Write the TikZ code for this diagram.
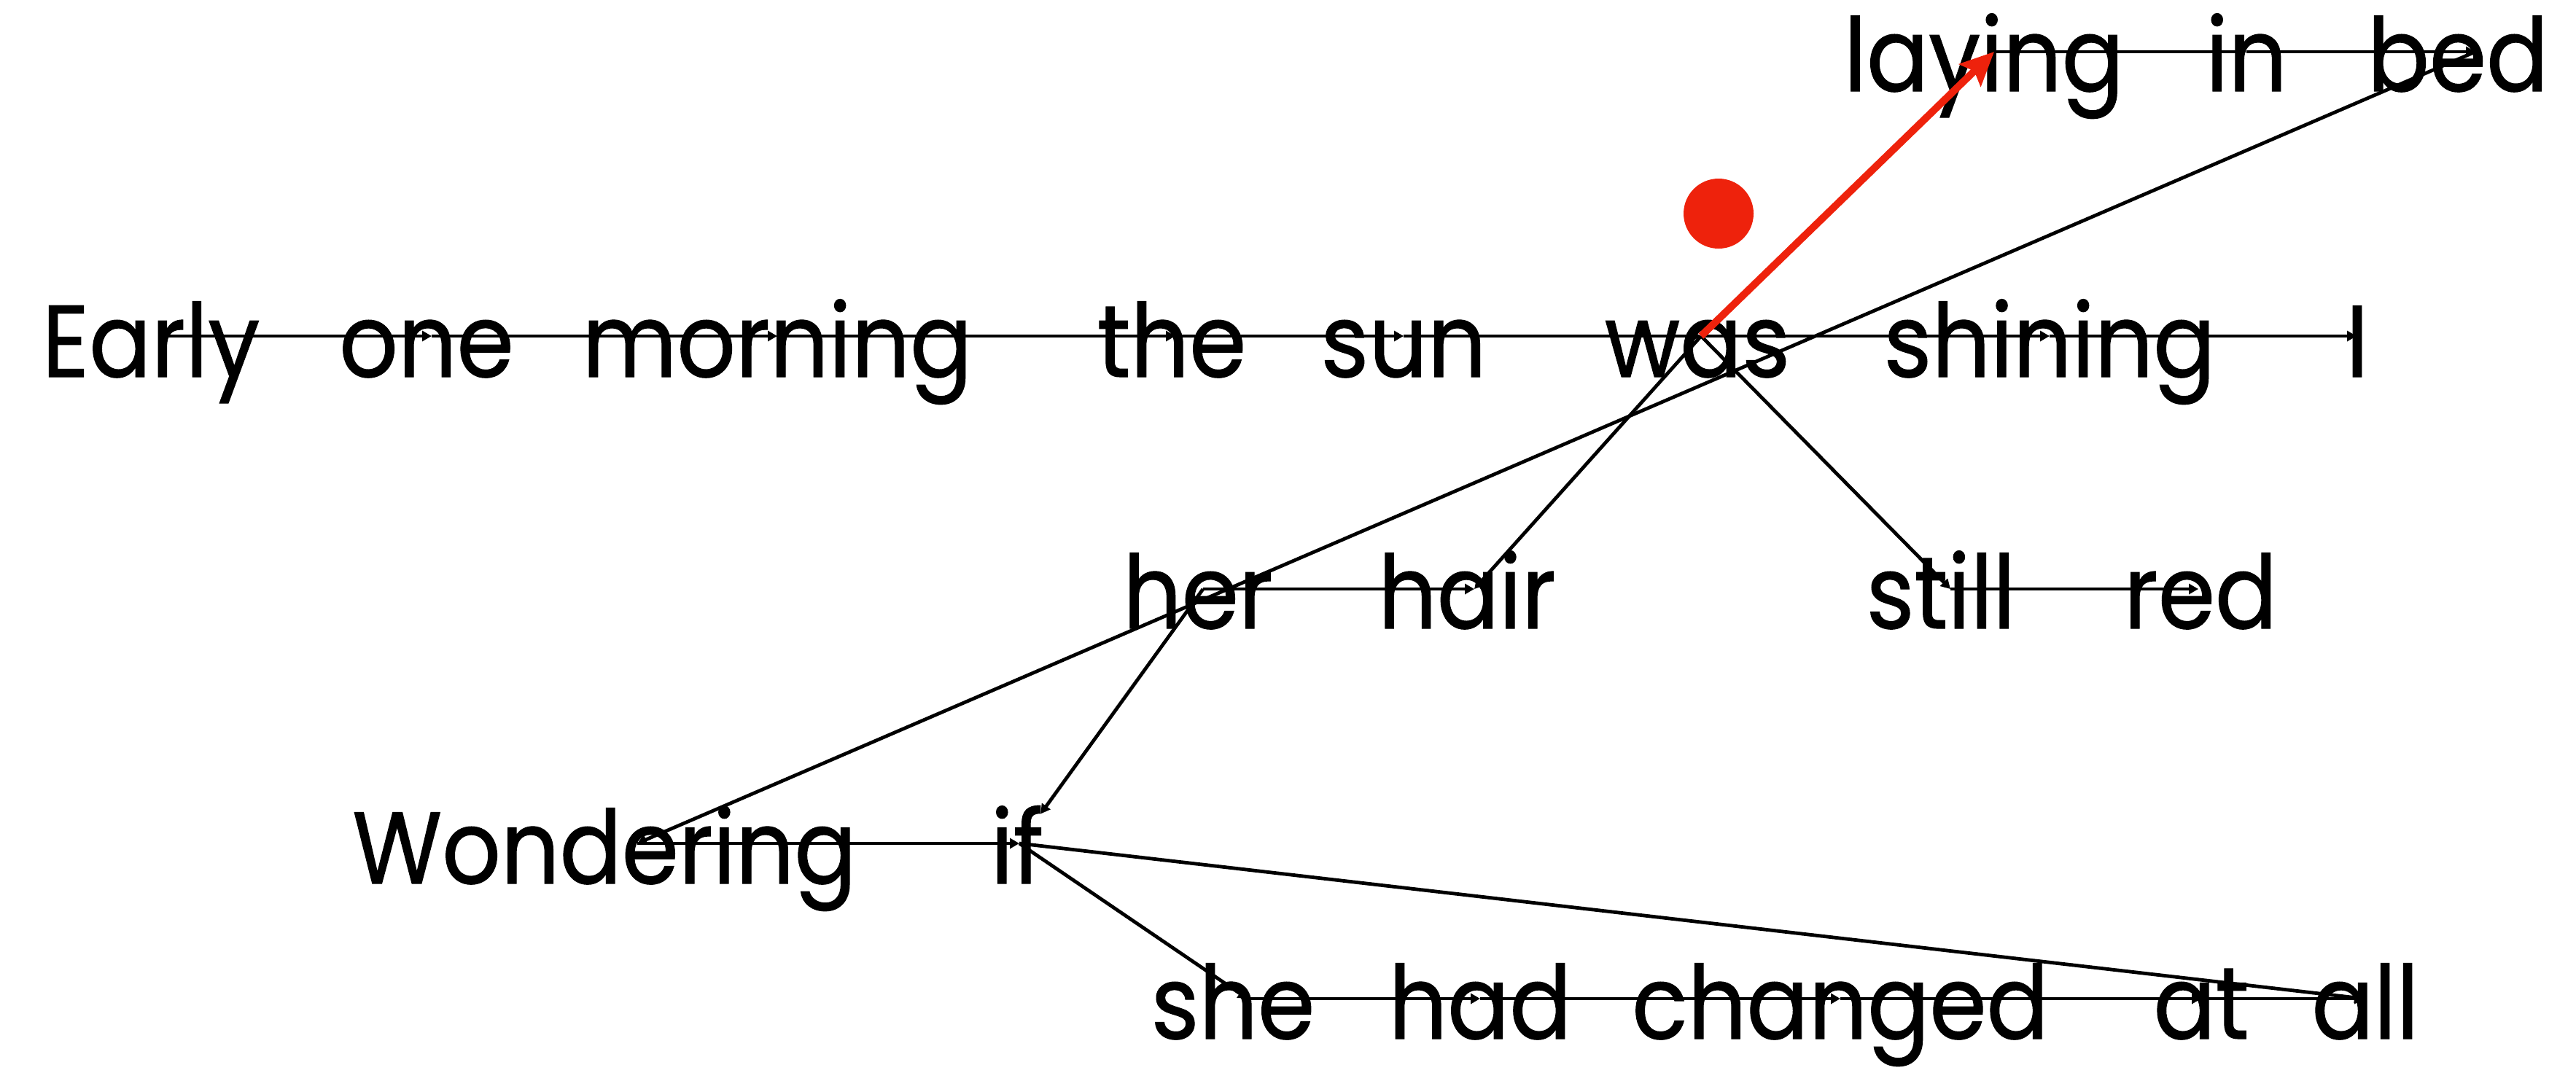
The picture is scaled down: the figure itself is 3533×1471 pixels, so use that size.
\documentclass[tikz,border=0pt]{standalone}
\usepackage{fontspec}
\setmainfont{Poppins}[FakeStretch=0.9,FakeBold=0.8]
\usetikzlibrary{arrows.meta}
\definecolor{hot}{RGB}{238,34,12}
\begin{document}
\begin{tikzpicture}[x=0.1pt,y=-0.1pt,
  word/.style={anchor=base, inner sep=0pt, font=\fontsize{14}{16}\selectfont},
  link/.style={draw=black, line width=0.48pt, -{Triangle[length=1.3pt,width=1.4pt]}},
  hotlink/.style={draw=hot, line width=1.0pt, -{Stealth[length=4.6pt,width=4.2pt,inset=0.8pt]}}]
\useasboundingbox (0,0) rectangle (3533,1471);
% words
\node[word] (laying) at (2721,125) {laying};
\node[word] (in) at (3081,125) {in};
\node[word] (bed) at (3371,125) {bed};
\node[word] (Early) at (207,517) {Early};
\node[word] (one) at (585,517) {one};
\node[word] (morning) at (1066,517) {morning};
\node[word] (the) at (1607,517) {the};
\node[word] (sun) at (1925,517) {sun};
\node[word] (was) at (2328,517) {was};
\node[word] (shining) at (2811,517) {shining};
\node[word] (I) at (3233,517) {I};
\node[word] (her) at (1643,862) {her};
\node[word] (hair) at (2012,862) {hair};
\node[word] (still) at (2662,862) {still};
\node[word] (red) at (3018,862) {red};
\node[word] (Wondering) at (829,1212) {Wondering};
\node[word] (if) at (1395,1212) {if};
\node[word] (she) at (1691,1425) {she};
\node[word] (had) at (2030,1425) {had};
\node[word] (changed) at (2524,1425) {changed};
\node[word] (at) at (3019,1425) {at};
\node[word] (all) at (3244,1425) {all};
% ports
\coordinate (playing) at (2735,71);
\coordinate (pin) at (3081,71);
\coordinate (pbed) at (3395,71);
\coordinate (pEarly) at (224,461);
\coordinate (pone) at (592,461);
\coordinate (pmorning) at (1066,461);
\coordinate (pthe) at (1612,461);
\coordinate (psun) at (1925,461);
\coordinate (pwas) at (2333,461);
\coordinate (pshining) at (2811,461);
\coordinate (pI) at (3232,461);
\coordinate (pher) at (1650,808);
\coordinate (phair) at (2022,808);
\coordinate (pstill) at (2675,808);
\coordinate (pred) at (3015,808);
\coordinate (pWondering) at (874,1157);
\coordinate (pif) at (1398,1157);
\coordinate (pshe) at (1711,1370);
\coordinate (phad) at (2030,1370);
\coordinate (pchanged) at (2524,1370);
\coordinate (pat) at (3019,1370);
\coordinate (pall) at (3242,1370);
% connectors
\draw[link] (pEarly) -- (pone);
\draw[link] (pone) -- (pmorning);
\draw[link] (pmorning) -- (pthe);
\draw[link] (pthe) -- (psun);
\draw[link] (psun) -- (pwas);
\draw[link] (pwas) -- (pshining);
\draw[link] (pshining) -- (pI);
\draw[link] (playing) -- (pin);
\draw[link] (pin) -- (pbed);
\draw[link] (pbed) -- (pWondering);
\draw[link] (pWondering) -- (pif);
\draw[link] (pif) -- (pshe);
\draw[link] (pshe) -- (phad);
\draw[link] (phad) -- (pchanged);
\draw[link] (pchanged) -- (pat);
\draw[link] (pat) -- (pall);
\draw[link] (pif) -- (pall);
\draw[link, shorten >=5pt] (pher) -- (pif);
\draw[link] (pher) -- (phair);
\draw[link] (pwas) -- (phair);
\draw[link] (pwas) -- (pstill);
\draw[link] (pstill) -- (pred);
% red marks
\fill[hot] (2357,293) circle[radius=48];
\draw[hotlink] (pwas) -- (playing);
\end{tikzpicture}
\end{document}
